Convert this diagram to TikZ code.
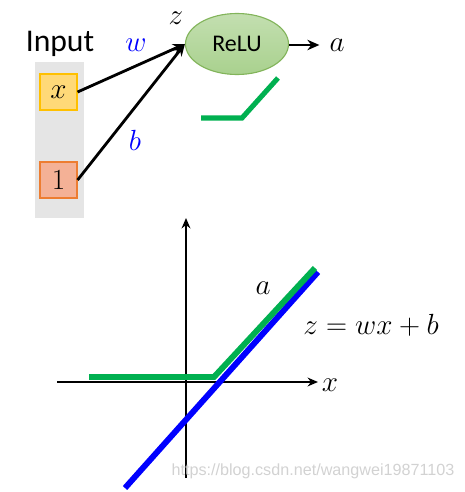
\documentclass[tikz,border=0pt]{standalone}
\usepackage{fontspec}
\setsansfont{Carlito}
\newfontfamily\wmfont{Liberation Sans}
\usepackage{xcolor}
\usetikzlibrary{arrows.meta,shapes.geometric}
\definecolor{grn}{RGB}{0,176,80}
\definecolor{xfill}{RGB}{255,217,120}
\definecolor{xline}{RGB}{255,192,0}
\definecolor{ofill}{RGB}{244,177,150}
\definecolor{oline}{RGB}{237,125,49}
\definecolor{efill}{RGB}{169,209,142}
\definecolor{eline}{RGB}{130,180,90}
\tikzset{
  inbox/.style ={draw,thick,minimum width=0.925cm,minimum height=0.9cm,inner sep=0pt,font=\fontsize{22}{24}\selectfont},
  lbl/.style   ={font=\fontsize{20}{22}\selectfont,inner sep=1pt},
  wlbl/.style  ={lbl,blue},
  ar/.style    ={-{Stealth[length=3mm,width=2.6mm]},line width=2pt},
  axis/.style  ={-{Stealth[length=2.6mm,width=2.2mm]},line width=1.8pt},
  relu/.style  ={grn,line width=3.6pt},
  lin/.style   ={blue,line width=4.2pt},
}
\begin{document}
\begin{tikzpicture}[x=0.025cm,y=-0.025cm]
  \useasboundingbox (0,0) rectangle (465,492);
  % input column
  \fill[gray!20] (35,62) rectangle (84,218);
  \node[font=\sffamily\fontsize{22.5}{24}\selectfont] (inp) at (60,44) {Input};
  \node[inbox,fill=xfill,draw=xline] (xin) at (58.5,92) {$x$};
  \node[inbox,fill=ofill,draw=oline] (one) at (58.5,180) {$1$};
  % neuron
  \node[ellipse,draw=eline,thick,top color=efill!70!white,bottom color=efill,
        minimum width=2.575cm,minimum height=1.525cm,inner sep=0pt,
        font=\sffamily\fontsize{17}{19}\selectfont] (relu) at (237,44) {ReLU};
  \node[lbl] (z) at (176,18) {$z$};
  \node[wlbl] (w) at (136,45) {$w$};
  \node[wlbl] (b) at (135,140) {$b$};
  \node[lbl] (a) at (337,45) {$a$};
  \draw[ar] (xin.east) -- (relu.west);
  \draw[ar] (one.east) -- (relu.west);
  \draw[ar] (relu.east |- a.west) -- ([xshift=-6pt]a.west);
  % small relu sketch
  \coordinate (s1) at (201,118); \coordinate (s2) at (242,118); \coordinate (s3) at (278,78);
  \draw[relu] (s1) -- (s2) -- (s3);
  % axes
  \coordinate (xl) at (57,382);  \coordinate (xr) at (318,382);
  \coordinate (yb) at (186,478); \coordinate (yt) at (186,218);
  \draw[axis] (xl) -- (xr);
  \draw[axis] (yb) -- (yt);
  \node[lbl] (xlab) at (330,385) {$x$};
  % z and a
  \coordinate (l1) at (125,488); \coordinate (l2) at (318,272);
  \coordinate (g1) at (89,377);  \coordinate (g2) at (214,377); \coordinate (g3) at (315,268);
  \draw[lin] (l1) -- (l2);
  \draw[relu,line width=4.2pt] (g1) -- (g2) -- (g3);
  \node[lbl] (alab) at (263,288) {$a$};
  \node[lbl] (zlab) at (371,325) {$z=wx+b$};
  % watermark
  \node[font=\wmfont\fontsize{11.5}{13}\selectfont,gray!35] (wm) at (313,471) {https://blog.csdn.net/wangwei19871103};
\end{tikzpicture}
\end{document}
